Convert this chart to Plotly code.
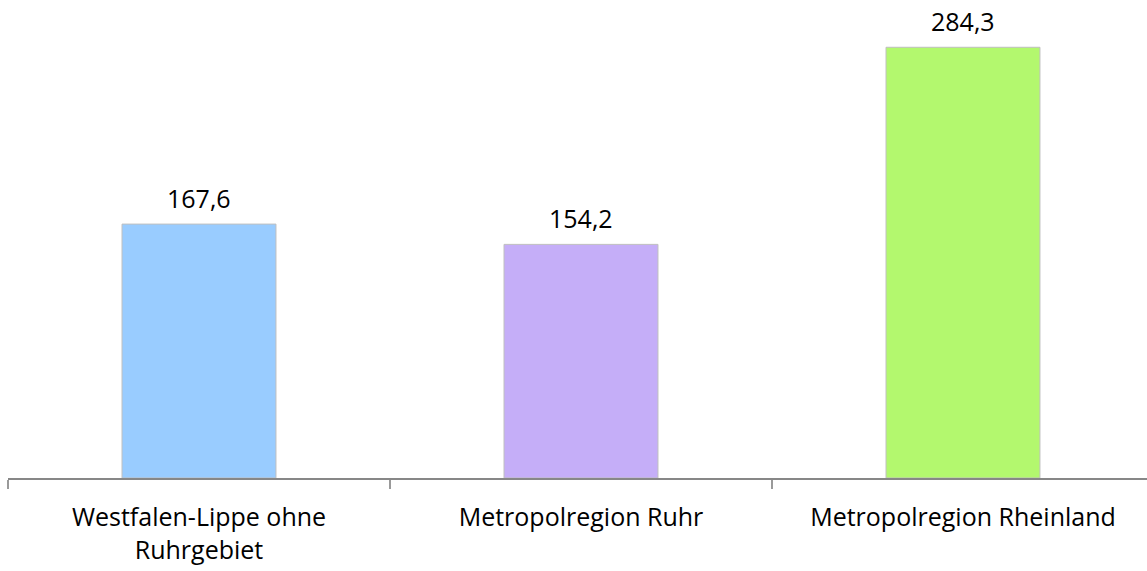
import plotly.graph_objects as go

regions = ["Westfalen-Lippe ohne<br>Ruhrgebiet", "Metropolregion Ruhr", "Metropolregion Rheinland"]
values = [167.6, 154.2, 284.3]
value_labels = ["167,6", "154,2", "284,3"]
bar_colors = ["#99CCFF", "#C5AEF8", "#B3F86E"]

FONT = "Open Sans"
FONT_SIZE = 25

fig = go.Figure(
    go.Bar(
        x=regions,
        y=values,
        marker=dict(color=bar_colors, line=dict(color="#BFBFBF", width=1)),
        hoverinfo="skip",
    )
)

for cat, val, lab in zip(regions, values, value_labels):
    fig.add_annotation(
        x=cat, y=val, text=lab, showarrow=False,
        yanchor="middle", yshift=26,
        font=dict(family=FONT, size=FONT_SIZE, color="#000000"),
    )

fig.update_layout(
    width=1147,
    height=571,
    margin=dict(l=8, r=0, t=0, b=93),
    paper_bgcolor="white",
    plot_bgcolor="white",
    bargap=0.597,
    showlegend=False,
    font=dict(family=FONT, size=FONT_SIZE, color="#000000"),
)

fig.update_xaxes(
    type="category",
    range=[-0.5, 2.4817],
    showline=True,
    linecolor="#878787",
    linewidth=2,
    ticks="outside",
    tickson="boundaries",
    ticklen=9,
    tickcolor="#9A9A9A",
    tickwidth=1.5,
    ticklabelstandoff=16,
    showgrid=False,
    tickfont=dict(family=FONT, size=FONT_SIZE, color="#000000"),
)

fig.update_yaxes(
    range=[0, 315.5],
    visible=False,
    showgrid=False,
    zeroline=False,
)

fig.write_html("out.html")
